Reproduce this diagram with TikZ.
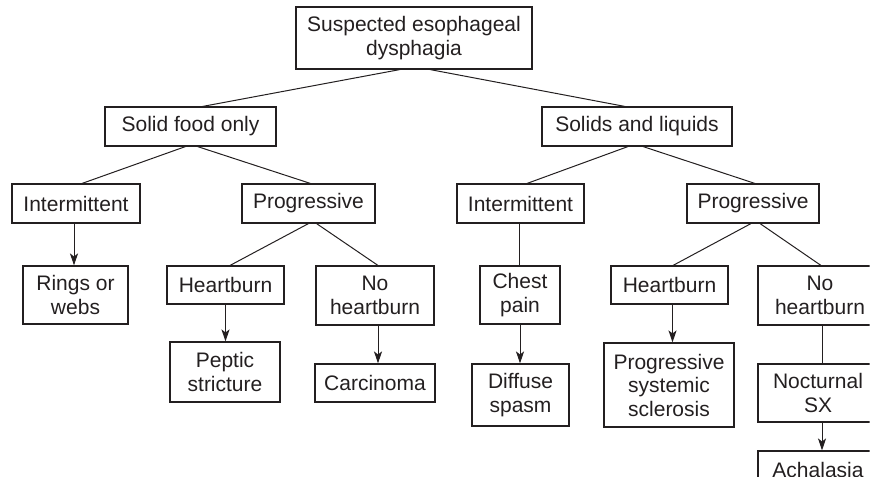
\documentclass[tikz,border=0pt]{standalone}
\usepackage{fontspec}
\setmainfont{Liberation Sans}
\usetikzlibrary{arrows.meta}
\definecolor{ink}{HTML}{231F20}
\begin{document}
\begin{tikzpicture}[x=1pt,y=-1pt,
  box/.style={draw=ink, line width=1.1pt, inner sep=0pt, align=center, text=ink,
    font=\fontsize{21}{23.5}\selectfont},
  link/.style={draw=ink, line width=1pt},
  arr/.style={draw=ink, line width=1pt, -{Stealth[length=12pt,width=8pt,inset=3pt]}}]
\useasboundingbox (0,0) rectangle (870,485);
\clip (0,0) rectangle (869.6,476);
% boxes
\node[box, minimum width=236pt, minimum height=62pt] (top) at (414,38) {Suspected esophageal\\dysphagia};
\node[box, minimum width=171pt, minimum height=39pt] (sfo) at (190.5,126.5) {Solid food only};
\node[box, minimum width=190pt, minimum height=39pt] (sal) at (637,126.5) {Solids and liquids};
\node[box, minimum width=128pt, minimum height=39pt] (intL) at (76,203.5) {Intermittent};
\node[box, minimum width=133pt, minimum height=39pt] (progL) at (308.5,203.5) {Progressive};
\node[box, minimum width=127pt, minimum height=39pt] (intR) at (520.5,203.5) {Intermittent};
\node[box, minimum width=132pt, minimum height=39pt] (progR) at (753,203.5) {Progressive};
\node[box, minimum width=105pt, minimum height=58pt] (rings) at (75.5,295) {Rings or\\webs};
\node[box, minimum width=117pt, minimum height=38pt] (hbL) at (225.5,285) {Heartburn};
\node[box, minimum width=118pt, minimum height=59pt] (nhbL) at (375,295.5) {No\\heartburn};
\node[box, minimum width=110pt, minimum height=60pt] (peptic) at (225,372) {Peptic\\stricture};
\node[box, minimum width=120pt, minimum height=38pt] (carc) at (375,383) {Carcinoma};
\node[box, minimum width=80pt, minimum height=58pt] (chest) at (520,295) {Chest\\pain};
\node[box, minimum width=97pt, minimum height=62pt] (diffuse) at (520.5,395) {Diffuse\\spasm};
\node[box, minimum width=117pt, minimum height=38pt] (hbR) at (669.5,285) {Heartburn};
\node[box, minimum width=130pt, minimum height=84pt] (pss) at (669,385) {Progressive\\systemic\\sclerosis};
\node[box, minimum width=124pt, minimum height=59pt] (nhbR) at (820,295.5) {No\\heartburn};
\node[box, minimum width=120pt, minimum height=58pt] (noct) at (818,393) {Nocturnal\\SX};
\node[box, minimum width=120pt, minimum height=38pt] (achal) at (818,470) {Achalasia};
% branching links
\draw[link] ([xshift=-14pt]top.south) -- ([xshift=12pt]sfo.north);
\draw[link] ([xshift=16pt]top.south) -- ([xshift=-12pt]sal.north);
\draw[link] ([xshift=-5pt]sfo.south) -- ([xshift=6pt]intL.north);
\draw[link] ([xshift=7pt]sfo.south) -- ([xshift=2pt]progL.north);
\draw[link] ([xshift=-9pt]sal.south) -- ([xshift=6.5pt]intR.north);
\draw[link] ([xshift=6pt]sal.south) -- ([xshift=2pt]progR.north);
\draw[link] ([xshift=0pt]progL.south) -- ([xshift=4.5pt]hbL.north);
\draw[link] ([xshift=8pt]progL.south) -- ([xshift=3pt]nhbL.north);
\draw[link] ([xshift=-2pt]progR.south) -- ([xshift=3.5pt]hbR.north);
\draw[link] ([xshift=7pt]progR.south) -- ([xshift=1pt]nhbR.north);
% vertical links
\draw[link] ([xshift=-1.5pt]intR.south) -- ([xshift=-1.5pt]intR.south |- chest.north);
\draw[link] ([xshift=2pt]nhbR.south) -- ([xshift=2pt]nhbR.south |- noct.north);
% arrows
\draw[arr] ([xshift=-2pt]intL.south) -- ([xshift=-2pt]intL.south |- rings.north);
\draw[arr] (hbL.south) -- (hbL.south |- peptic.north);
\draw[arr] ([xshift=3pt]nhbL.south) -- ([xshift=3pt]nhbL.south |- carc.north);
\draw[arr] (chest.south) -- (chest.south |- diffuse.north);
\draw[arr] ([xshift=3pt]hbR.south) -- ([xshift=3pt]hbR.south |- pss.north);
\draw[arr] ([xshift=4pt]noct.south) -- ([xshift=4pt]noct.south |- achal.north);
\end{tikzpicture}
\end{document}
